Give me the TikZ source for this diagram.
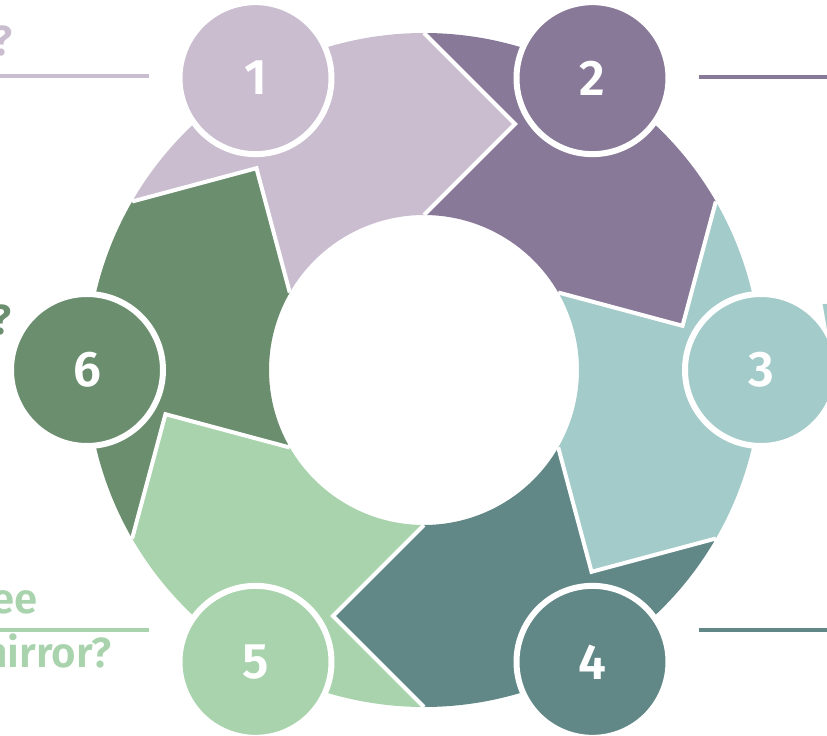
\documentclass[tikz,border=0pt]{standalone}
\usepackage{fontspec}
\setmainfont{Fira Sans}[BoldFont={Fira Sans SemiBold}]

\definecolor{lilac}{HTML}{C9BDCF}
\definecolor{plum}{HTML}{897998}
\definecolor{aqua}{HTML}{A3CBC9}
\definecolor{deepTeal}{HTML}{618887}
\definecolor{mint}{HTML}{A8D3AD}
\definecolor{sage}{HTML}{6B8E6F}

\begin{document}
\begin{tikzpicture}[x=1pt,y=1pt,
        numNode/.style = {circle,draw=white,line width=6pt,minimum size=152pt,inner sep=0pt,
                text=white,font=\fontsize{50}{50}\selectfont\bfseries},
        askNode/.style = {inner sep=0pt,font=\fontsize{42}{42}\selectfont\bfseries},
        cutLine/.style = {draw=white,line width=4pt},
        tagLine/.style = {line width=4pt,shorten <=27pt}
        ]
        \useasboundingbox (-424,-366) rectangle (403,370);
        \clip (-424,-366) rectangle (403,370);
        % ring pieces
        \fill[lilac] (150:337) arc[start angle=150,end angle=90,radius=337] -- (69.7:262.3)
        -- (90:155) arc[start angle=90,end angle=150,radius=155] -- (129.7:262.3) -- cycle;
        \fill[plum] (90:337) arc[start angle=90,end angle=30,radius=337] -- (9.7:262.3)
        -- (30:155) arc[start angle=30,end angle=90,radius=155] -- (69.7:262.3) -- cycle;
        \fill[aqua] (30:337) arc[start angle=30,end angle=-30,radius=337] -- (-50.3:262.3)
        -- (-30:155) arc[start angle=-30,end angle=30,radius=155] -- (9.7:262.3) -- cycle;
        \fill[deepTeal] (-30:337) arc[start angle=-30,end angle=-90,radius=337] -- (-110.3:262.3)
        -- (-90:155) arc[start angle=-90,end angle=-30,radius=155] -- (-50.3:262.3) -- cycle;
        \fill[mint] (-90:337) arc[start angle=-90,end angle=-150,radius=337] -- (-170.3:262.3)
        -- (-150:155) arc[start angle=-150,end angle=-90,radius=155] -- (-110.3:262.3) -- cycle;
        \fill[sage] (210:337) arc[start angle=210,end angle=150,radius=337] -- (129.7:262.3)
        -- (150:155) arc[start angle=150,end angle=210,radius=155] -- (189.7:262.3) -- cycle;
        % white cuts between the pieces
        \draw[cutLine] (90:337) -- (69.7:262.3) -- (90:155);
        \draw[cutLine] (30:337) -- (9.7:262.3) -- (30:155);
        \draw[cutLine] (-30:337) -- (-50.3:262.3) -- (-30:155);
        \draw[cutLine] (-90:337) -- (-110.3:262.3) -- (-90:155);
        \draw[cutLine] (-150:337) -- (-170.3:262.3) -- (-150:155);
        \draw[cutLine] (150:337) -- (129.7:262.3) -- (150:155);
        % numbered discs
        \node[numNode,fill=lilac] (c1) at (120:337) {1};
        \node[numNode,fill=plum] (c2) at (60:337) {2};
        \node[numNode,fill=aqua] (c3) at (0:337) {3};
        \node[numNode,fill=deepTeal] (c4) at (-60:337) {4};
        \node[numNode,fill=mint] (c5) at (-120:337) {5};
        \node[numNode,fill=sage] (c6) at (180:337) {6};
        % side lines
        \coordinate (leftEdge) at (-424,0);
        \coordinate (rightEdge) at (403,0);
        \draw[tagLine,lilac] ([yshift=2pt]c1.west) -- ([yshift=2pt]c1.west -| leftEdge);
        \draw[tagLine,plum] ([yshift=1pt]c2.east) -- ([yshift=1pt]c2.east -| rightEdge);
        \draw[tagLine,deepTeal] ([yshift=32pt]c4.east) -- ([yshift=32pt]c4.east -| rightEdge);
        \draw[tagLine,mint] ([yshift=32pt]c5.west) -- ([yshift=32pt]c5.west -| leftEdge);
        % cut-off labels
        \node[askNode,text=lilac,anchor=base east] (ask1) at (-411,314) {?};
        \node[askNode,text=sage,anchor=base east] (ask6) at (-412,35) {?};
        \node[askNode,text=aqua,anchor=base west] (ask3) at (398,36) {W};
        \node[askNode,text=mint,anchor=base east] (ask5a) at (-386,-243) {ee};
        \node[askNode,text=mint,anchor=base east] (ask5b) at (-312,-297) {mirror?};
\end{tikzpicture}
\end{document}
